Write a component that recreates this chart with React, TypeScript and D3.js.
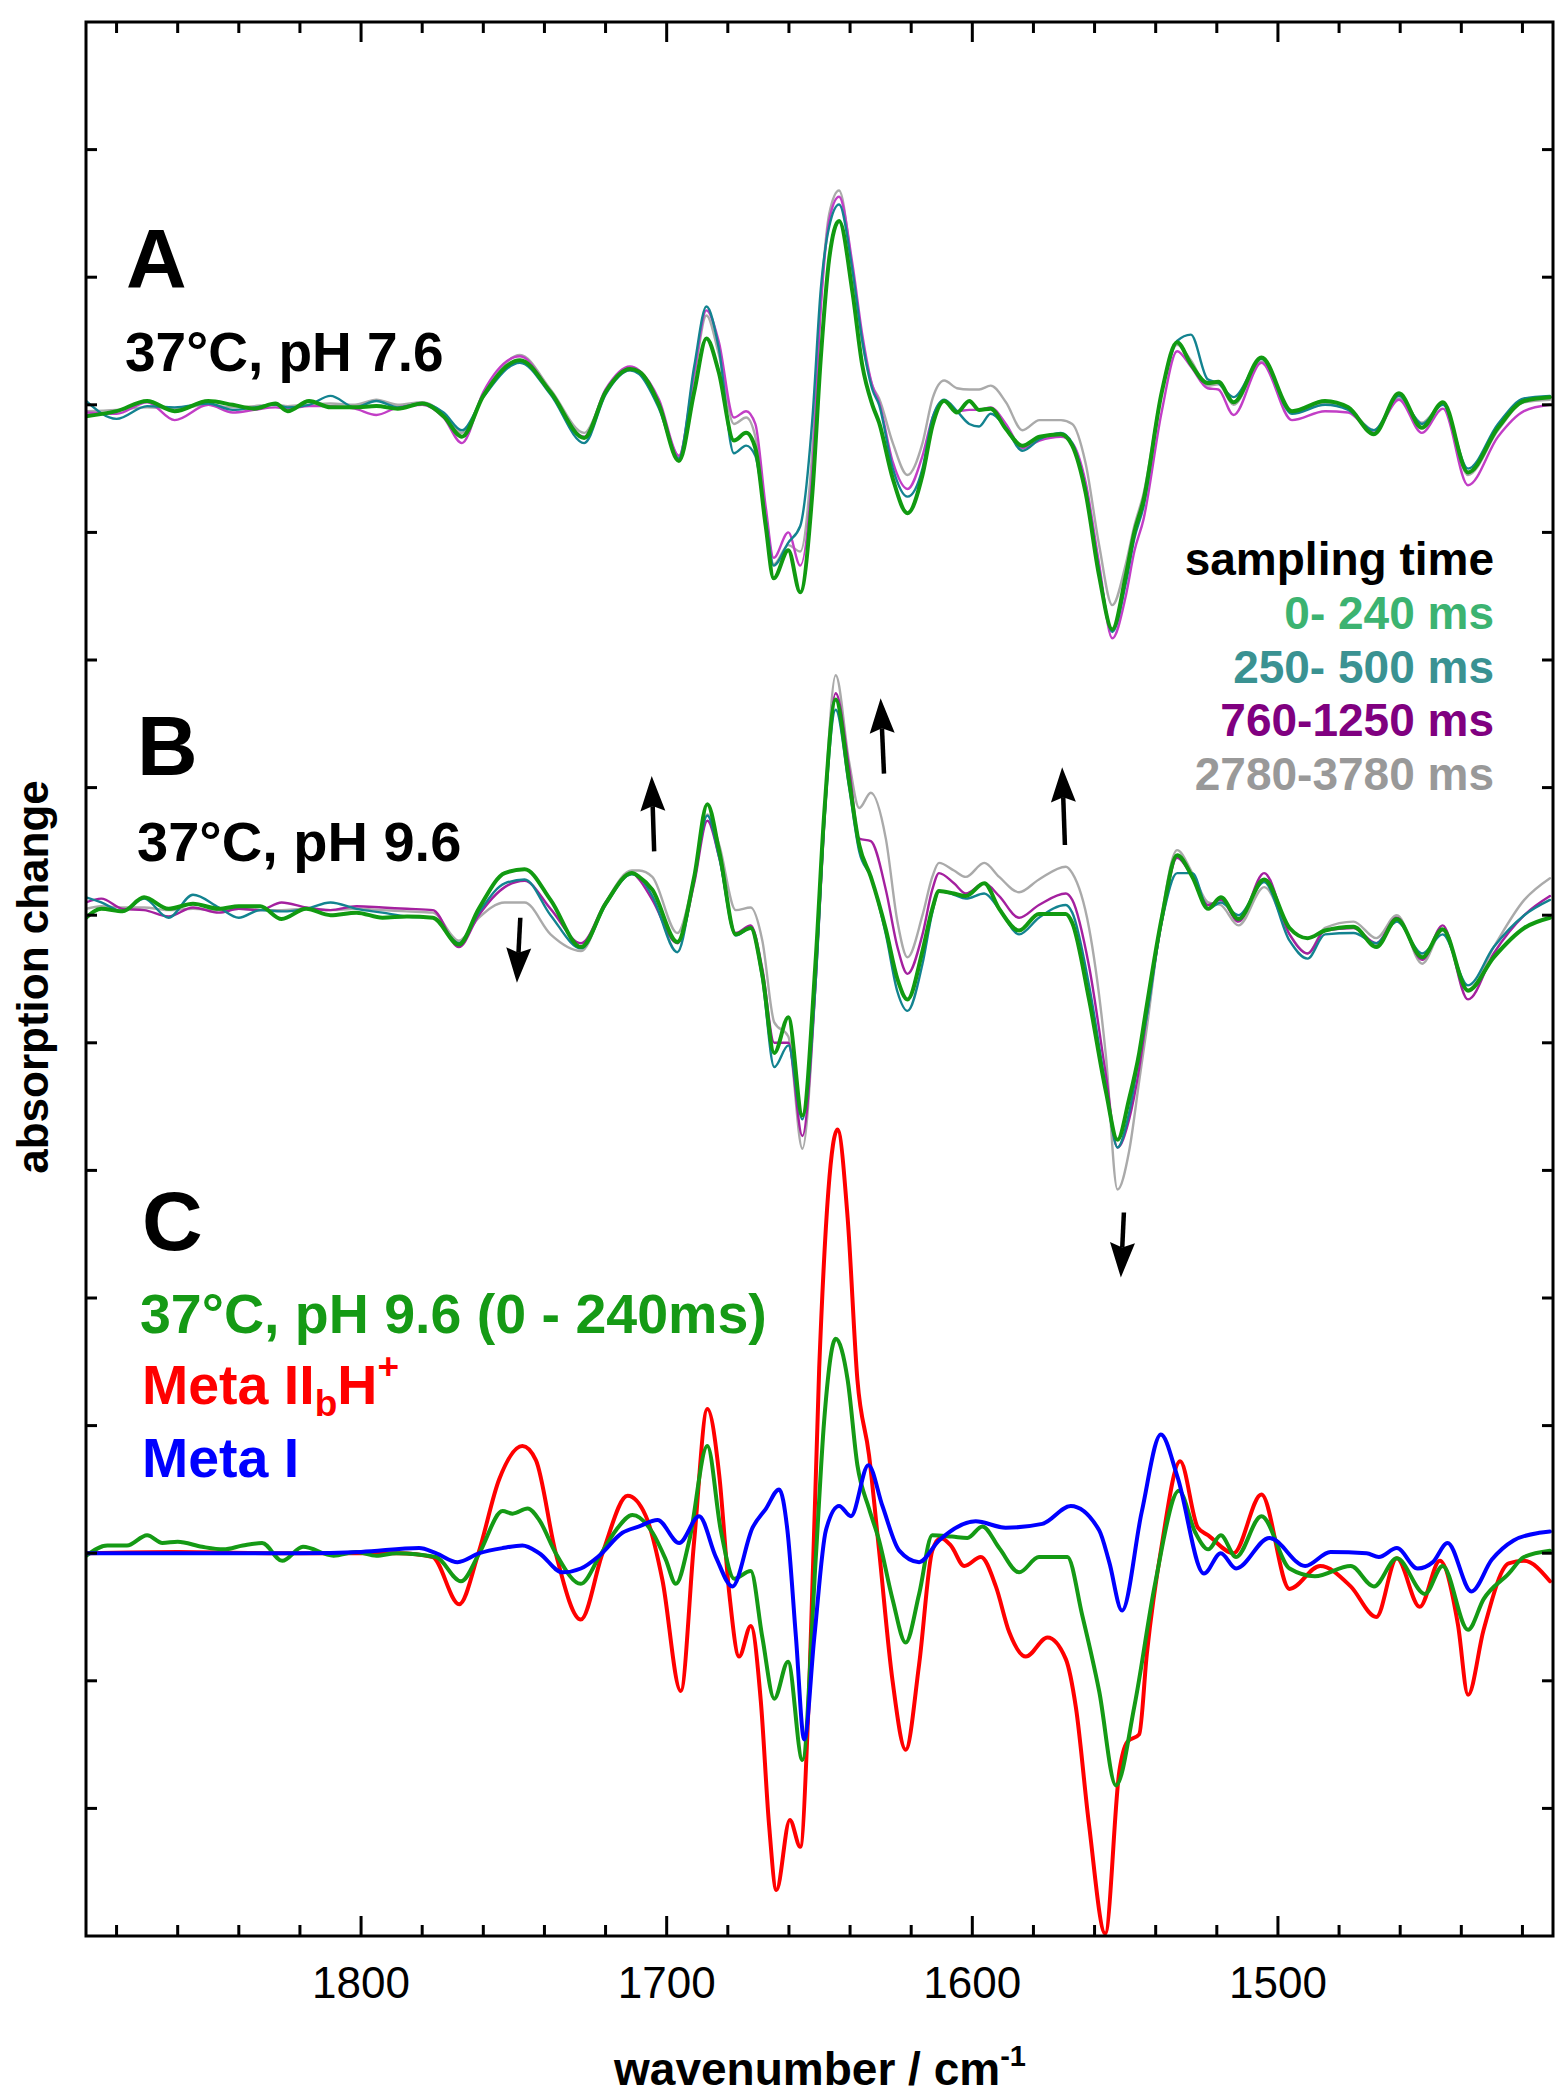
import React from 'react';
import * as d3 from 'd3';

// frame of the plot (px)
const W = 1561;
const H = 2095;
const frame = { left: 86, right: 1553, top: 22, bottom: 1936 };

// x axis: wavenumber
const xDomain = [1890, 1410];
const majorTicks = [1800, 1700, 1600, 1500];
const minorTicks = [1880, 1860, 1840, 1820, 1780, 1760, 1740, 1720, 1680, 1660, 1640, 1620, 1580, 1560, 1540, 1520, 1480, 1460, 1440, 1420];
// y axis: arbitrary units, ticks only
const yDomain = [0, 15];
const yTicks = [1, 2, 3, 4, 5, 6, 7, 8, 9, 10, 11, 12, 13, 14];

// panel baselines (y units)
const offsetA = 12;
const offsetB = 8;
const offsetC = 3;

// ---- panel A: 37°C, pH 7.6 ----
const wnA = [1890, 1880, 1870, 1861, 1850, 1842, 1835, 1828, 1824, 1817, 1810, 1802, 1795, 1788, 1780, 1773, 1767, 1760, 1748, 1738, 1727, 1720, 1712, 1709, 1702.5, 1696, 1691, 1687, 1683, 1678, 1674, 1671, 1667.6, 1665, 1660.2, 1656.3, 1652.3, 1649.6, 1646.8, 1643.6, 1639.2, 1636, 1632.7, 1630.5, 1626, 1621.2, 1616.3, 1613, 1609.2, 1605, 1601, 1597.8, 1594, 1589, 1583.6, 1578, 1571, 1567.3, 1563, 1558.5, 1554.2, 1549.8, 1547, 1544, 1538, 1533, 1528.5, 1523, 1519.5, 1514.5, 1505.4, 1495.4, 1484.6, 1477, 1468.6, 1460.4, 1452.9, 1446, 1437.8, 1428, 1419.5, 1411];
const aGreen = [-0.09, -0.05, 0.03, -0.05, 0.03, 0, -0.03, 0.01, -0.05, 0.03, -0.02, -0.02, -0.01, -0.03, 0.01, -0.09, -0.25, 0.07, 0.35, 0.1, -0.26, 0.1, 0.28, 0.26, 0, -0.44, 0.1, 0.52, 0.26, -0.28, -0.22, -0.34, -0.95, -1.36, -1.14, -1.47, -0.68, 0.36, 1.15, 1.44, 0.88, 0.31, 0, -0.14, -0.58, -0.85, -0.55, -0.16, 0.03, -0.06, 0.03, -0.04, -0.03, -0.19, -0.32, -0.25, -0.23, -0.32, -0.68, -1.34, -1.76, -1.34, -1.0, -0.75, 0.1, 0.49, 0.32, 0.17, 0.18, 0.02, 0.37, -0.05, 0.03, -0.02, -0.23, 0.09, -0.18, 0.02, -0.53, -0.18, 0.03, 0.06];
const aTeal = [0.03, -0.11, -0.01, -0.02, 0.01, -0.04, -0.02, 0, -0.02, 0, 0.07, -0.02, 0.03, -0.02, 0.01, -0.06, -0.2, 0.06, 0.33, 0.08, -0.3, 0.08, 0.27, 0.24, -0.03, -0.42, 0.3, 0.77, 0.45, -0.38, -0.32, -0.4, -0.9, -1.26, -1.08, -0.95, -0.1, 0.9, 1.4, 1.57, 1.05, 0.5, 0.12, 0, -0.5, -0.72, -0.5, -0.1, 0.04, -0.05, -0.15, -0.17, -0.07, -0.18, -0.36, -0.27, -0.22, -0.3, -0.65, -1.3, -1.78, -1.4, -1.05, -0.8, 0.1, 0.5, 0.55, 0.2, 0.17, 0.06, 0.36, -0.07, 0, -0.04, -0.2, 0.07, -0.15, 0, -0.5, -0.15, 0.05, 0.07];
const aMagenta = [-0.06, -0.07, 0.02, -0.12, 0, -0.06, -0.04, -0.02, -0.03, -0.01, -0.01, -0.03, -0.08, -0.02, 0, -0.1, -0.3, 0.1, 0.38, 0.1, -0.25, 0.12, 0.3, 0.27, 0.04, -0.4, 0.25, 0.74, 0.5, -0.1, -0.05, -0.15, -0.8, -1.2, -1.0, -1.26, -0.5, 0.75, 1.45, 1.63, 1.1, 0.55, 0.15, 0.02, -0.45, -0.66, -0.4, -0.1, 0.03, -0.05, -0.04, -0.04, -0.02, -0.15, -0.34, -0.28, -0.25, -0.3, -0.6, -1.25, -1.83, -1.5, -1.15, -0.9, -0.05, 0.42, 0.3, 0.13, 0.12, -0.08, 0.33, -0.12, -0.05, -0.06, -0.22, 0.04, -0.22, -0.03, -0.63, -0.25, -0.05, 0];
const aGrey = [-0.05, -0.04, -0.02, -0.03, 0, -0.02, -0.01, 0, -0.01, 0, 0.01, 0, 0.04, 0, 0.02, -0.07, -0.22, 0.08, 0.39, 0.12, -0.22, 0.1, 0.27, 0.25, 0, -0.4, 0.22, 0.7, 0.4, -0.15, -0.1, -0.25, -0.85, -1.25, -1.1, -1.15, -0.35, 0.8, 1.5, 1.68, 1.05, 0.5, 0.15, 0.05, -0.3, -0.55, -0.3, 0.05, 0.19, 0.13, 0.12, 0.12, 0.15, 0.02, -0.2, -0.12, -0.12, -0.15, -0.45, -1.1, -1.57, -1.25, -0.95, -0.7, 0.1, 0.47, 0.35, 0.15, 0.16, 0, 0.34, -0.06, 0.01, -0.03, -0.2, 0.05, -0.14, 0.01, -0.55, -0.2, 0.02, 0.04];

// ---- panel B: 37°C, pH 9.6 ----
const wnB = [1890, 1885, 1878, 1871, 1863, 1855, 1846.5, 1840, 1833, 1826, 1818, 1810, 1801.5, 1793, 1785, 1776.5, 1768, 1761.5, 1753, 1746.5, 1738, 1728, 1720, 1711.4, 1709, 1704.7, 1696.5, 1691, 1686.7, 1682.8, 1677.4, 1672.5, 1668.7, 1664.8, 1660.2, 1655.6, 1651.2, 1648.5, 1644.7, 1640.3, 1637, 1633.2, 1628.3, 1624.5, 1621.2, 1616.3, 1613.1, 1610.9, 1606, 1602.1, 1596.1, 1591.2, 1584.7, 1578.2, 1569.4, 1567.3, 1561.8, 1556.3, 1552.5, 1548.7, 1545.4, 1543, 1538, 1533, 1528, 1522.8, 1518.7, 1512.9, 1504.5, 1496.2, 1490.3, 1484.6, 1475.3, 1467.8, 1461.1, 1452.8, 1446.1, 1437.8, 1429.4, 1419.4, 1411];
const bGreen = [-0.02, 0.05, 0.03, 0.14, 0.05, 0.09, 0.05, 0.07, 0.07, -0.03, 0.05, 0, 0.02, -0.02, -0.01, -0.02, -0.23, 0.05, 0.33, 0.36, 0.12, -0.25, 0.09, 0.33, 0.3, 0.2, -0.21, 0.3, 0.87, 0.5, -0.15, -0.1, -0.47, -1.08, -0.8, -1.57, -0.33, 0.78, 1.69, 1.05, 0.55, 0.3, -0.11, -0.5, -0.66, -0.28, 0.05, 0.19, 0.17, 0.15, 0.25, 0.05, -0.12, 0.01, 0.01, -0.06, -0.66, -1.38, -1.76, -1.44, -1.08, -0.72, -0.02, 0.47, 0.3, 0.05, 0.14, -0.03, 0.28, -0.1, -0.18, -0.12, -0.09, -0.25, -0.03, -0.33, -0.11, -0.59, -0.33, -0.1, -0.02];
const bTeal = [0.14, 0.1, 0.03, 0.13, -0.02, 0.16, 0.06, -0.02, 0.04, 0.03, 0.05, 0.1, 0.05, 0.02, -0.01, -0.02, -0.22, 0.02, 0.25, 0.28, 0, -0.26, 0.08, 0.32, 0.3, 0.15, -0.29, 0.3, 0.78, 0.45, -0.16, -0.1, -0.5, -1.19, -1.02, -1.6, -0.5, 0.7, 1.61, 1.0, 0.5, 0.3, -0.15, -0.6, -0.75, -0.38, 0.02, 0.19, 0.16, 0.13, 0.17, 0.05, -0.15, -0.02, 0.08, 0.02, -0.55, -1.35, -1.82, -1.55, -1.1, -0.8, -0.05, 0.33, 0.33, 0.05, 0.1, 0, 0.26, -0.2, -0.34, -0.15, -0.14, -0.22, -0.05, -0.3, -0.15, -0.55, -0.25, 0, 0.12];
const bMagenta = [0.1, 0.13, 0.05, 0.04, -0.01, 0.06, 0.02, 0.05, 0.04, 0.1, 0.06, 0.04, 0.07, 0.06, 0.05, 0.04, -0.25, 0, 0.22, 0.27, 0.05, -0.22, 0.1, 0.33, 0.28, 0.12, -0.22, 0.25, 0.74, 0.45, -0.14, -0.08, -0.42, -1.0, -1.0, -1.73, -0.5, 0.7, 1.74, 1.15, 0.6, 0.58, 0.2, -0.25, -0.46, -0.15, 0.2, 0.33, 0.25, 0.17, 0.25, 0.15, -0.02, 0.08, 0.17, 0.12, -0.4, -1.25, -1.82, -1.6, -1.2, -0.8, -0.05, 0.45, 0.3, 0.08, 0.12, -0.05, 0.33, -0.15, -0.3, -0.12, -0.1, -0.22, -0.02, -0.35, -0.08, -0.66, -0.3, 0, 0.15];
const bGrey = [0.05, 0.07, 0.06, 0.06, 0.04, 0.05, 0.04, 0.05, 0.04, 0.04, 0.05, 0.04, 0.05, 0.04, 0.03, 0.02, -0.2, -0.02, 0.1, 0.1, -0.15, -0.28, 0.1, 0.35, 0.35, 0.3, -0.14, 0.3, 0.79, 0.55, 0.04, 0.06, -0.2, -0.84, -0.95, -1.83, -0.5, 0.75, 1.88, 1.2, 0.84, 0.96, 0.6, -0.05, -0.33, 0, 0.3, 0.41, 0.35, 0.3, 0.41, 0.3, 0.18, 0.28, 0.38, 0.33, -0.1, -1.1, -2.15, -1.85, -1.3, -0.9, 0, 0.51, 0.33, 0.1, 0.08, -0.08, 0.22, -0.15, -0.3, -0.1, -0.05, -0.18, 0, -0.38, -0.12, -0.6, -0.25, 0.12, 0.29];

// ---- panel C: comparison ----
const cGreen = [[1890, -0.02], [1883, 0.06], [1876.6, 0.06], [1870, 0.14], [1865, 0.08], [1860, 0.09], [1852, 0.05], [1845, 0.03], [1838.7, 0.06], [1832.4, 0.08], [1825.8, -0.06], [1819, 0.05], [1809, -0.02], [1801.6, 0.01], [1795, -0.02], [1788.5, 0], [1775.5, -0.03], [1767.3, -0.22], [1761.3, 0], [1753.7, 0.33], [1750.4, 0.31], [1745.5, 0.35], [1741.7, 0.26], [1736.3, 0], [1728.1, -0.24], [1722.1, -0.03], [1716.6, 0.18], [1711.2, 0.3], [1704.6, 0.16], [1700.3, -0.05], [1697, -0.24], [1692.6, 0.1], [1686.7, 0.84], [1682.3, 0.18], [1677.9, -0.2], [1672.5, -0.14], [1668.7, -0.66], [1664.8, -1.14], [1660.3, -0.85], [1655.6, -1.62], [1651.2, -0.03], [1648.5, 1.03], [1644.7, 1.68], [1640.8, 1.36], [1637.6, 0.69], [1633.8, 0.35], [1630.5, 0.1], [1626.1, -0.36], [1621.8, -0.7], [1617.4, -0.32], [1613.1, 0.14], [1606.6, 0.13], [1601.6, 0.12], [1596.7, 0.21], [1591.2, 0.04], [1584.7, -0.15], [1578.2, -0.03], [1568.9, -0.03], [1564, -0.49], [1558.5, -1.08], [1553, -1.82], [1546.9, -1.19], [1540.2, -0.24], [1532.4, 0.49], [1527, 0.16], [1522.8, 0.03], [1518.7, 0.14], [1513.7, -0.03], [1505.4, 0.29], [1496.2, -0.12], [1487.9, -0.18], [1476.2, -0.1], [1468.6, -0.26], [1461.1, -0.04], [1451.9, -0.32], [1446.1, -0.1], [1437.8, -0.6], [1432.7, -0.36], [1424.5, -0.16], [1419.5, -0.03], [1411, 0.02]];
const cRed = [[1890, 0], [1860, 0.01], [1830, 0], [1800, 0], [1787.5, 0], [1776.6, -0.03], [1767.9, -0.4], [1761.6, 0], [1754.8, 0.58], [1747.2, 0.84], [1742.8, 0.73], [1736.3, 0], [1728.1, -0.52], [1721, 0], [1712.8, 0.45], [1706.8, 0.29], [1701.4, -0.21], [1695.4, -1.08], [1691, 0.1], [1686.7, 1.13], [1682.8, 0.61], [1679.5, -0.32], [1676.3, -0.81], [1672.5, -0.57], [1669.2, -1.16], [1666.5, -2.13], [1664.1, -2.64], [1659.7, -2.09], [1656.3, -2.3], [1653.4, -1.08], [1650.1, 1.45], [1644.1, 3.32], [1640.8, 2.63], [1637.6, 1.36], [1633.8, 0.77], [1630.5, 0.02], [1626.1, -1.0], [1621.8, -1.54], [1617.4, -0.87], [1613.1, 0.02], [1610.3, 0.12], [1607, 0.06], [1602.6, -0.1], [1597.2, -0.03], [1592.3, -0.26], [1587.9, -0.62], [1582.5, -0.81], [1575.4, -0.66], [1569.4, -0.83], [1566.1, -1.21], [1561.8, -2.13], [1556.5, -2.98], [1551.9, -1.71], [1549.3, -1.48], [1545.4, -1.42], [1542.9, -0.79], [1537.9, 0.08], [1532, 0.72], [1526.2, 0.2], [1522.8, 0.14], [1514.5, 0], [1505.4, 0.46], [1496.2, -0.28], [1486.2, -0.1], [1476.2, -0.26], [1467.8, -0.5], [1461.1, -0.04], [1453.6, -0.42], [1447, -0.06], [1441.1, -0.56], [1437.8, -1.11], [1432.7, -0.6], [1424.5, -0.08], [1419.5, -0.06], [1411, -0.22]];
const cBlue = [[1890, 0], [1850, 0], [1820, 0], [1800, 0.01], [1781, 0.04], [1775.5, 0], [1768.4, -0.07], [1761.3, 0], [1753.7, 0.04], [1747.2, 0.06], [1741.7, 0], [1734.1, -0.15], [1728.1, -0.12], [1722.1, -0.02], [1714.5, 0.16], [1709, 0.21], [1703, 0.26], [1695.9, 0.08], [1689.4, 0.29], [1683.9, -0.03], [1678.5, -0.26], [1671.9, 0.2], [1667.5, 0.35], [1663.2, 0.5], [1660.5, 0.18], [1657.7, -0.66], [1655, -1.46], [1651.7, -0.66], [1647.9, 0.18], [1643.6, 0.37], [1639.7, 0.29], [1634, 0.69], [1629.4, 0.37], [1623.9, 0.02], [1617.4, -0.07], [1610.9, 0.1], [1598.9, 0.25], [1589.1, 0.2], [1577.1, 0.23], [1567.8, 0.37], [1558.5, 0.18], [1555.2, -0.07], [1551, -0.45], [1544.6, 0.32], [1538.3, 0.93], [1532.9, 0.6], [1524.2, -0.16], [1518.7, 0], [1513.7, -0.12], [1502.8, 0.12], [1491.1, -0.1], [1482.8, 0.01], [1471, 0], [1467, -0.03], [1461.1, 0.04], [1454.3, -0.12], [1449.3, -0.07], [1444.5, 0.08], [1436.7, -0.3], [1430, -0.05], [1422.9, 0.1], [1414.5, 0.16], [1411, 0.17]];

// legend of sampling times
const legendLabels = ['0- 240 ms', '250- 500 ms', '760-1250 ms', '2780-3780 ms'];
const legendColors = ['#3cb371', '#3a9292', '#800080', '#999999'];

// arrows: [tail wn, tail y] -> [tip wn, tip y], in data units
const arrows = [
  { from: [1704.1, 8.5], to: [1704.9, 9.09] },
  { from: [1628.9, 9.11], to: [1630.0, 9.7] },
  { from: [1569.7, 8.55], to: [1570.6, 9.16] },
  { from: [1747.9, 7.98], to: [1749.0, 7.47] },
  { from: [1550.4, 5.67], to: [1551.4, 5.16] },
];

const FONT = '"Liberation Sans", Arial, Helvetica, sans-serif';

export default function App() {
  const x = d3.scaleLinear().domain(xDomain).range([frame.left, frame.right]);
  const y = d3.scaleLinear().domain(yDomain).range([frame.bottom, frame.top]);

  const makeLine = (offset) =>
    d3.line()
      .x(d => x(d[0]))
      .y(d => y(d[1] + offset))
      .curve(d3.curveMonotoneX);

  const lineA = makeLine(offsetA);
  const lineB = makeLine(offsetB);
  const lineC = makeLine(offsetC);

  const seriesA = [
    { vals: aGrey, color: '#aaaaaa', w: 2.4 },
    { vals: aMagenta, color: '#c23ec6', w: 2.4 },
    { vals: aTeal, color: '#138390', w: 2.4 },
    { vals: aGreen, color: '#119a11', w: 4 },
  ];
  const seriesB = [
    { vals: bGrey, color: '#aaaaaa', w: 2.4 },
    { vals: bMagenta, color: '#a4209f', w: 2.4 },
    { vals: bTeal, color: '#138390', w: 2.4 },
    { vals: bGreen, color: '#119a11', w: 4 },
  ];
  const seriesC = [
    { data: cRed, color: '#ff0000' },
    { data: cGreen, color: '#159a15' },
    { data: cBlue, color: '#0000ff' },
  ];

  const arrowPath = (a) => {
    const x1 = x(a.from[0]), y1 = y(a.from[1]);
    const x2 = x(a.to[0]), y2 = y(a.to[1]);
    const len = Math.hypot(x2 - x1, y2 - y1);
    const ux = (x2 - x1) / len, uy = (y2 - y1) / len;
    const headL = 35, headW = 12.5, notch = 5;
    const bx = x2 - ux * headL, by = y2 - uy * headL;
    const nx = -uy, ny = ux;
    const shaft = `M${x1},${y1}L${bx + ux * notch},${by + uy * notch}`;
    const head = `M${x2},${y2}L${bx + nx * headW},${by + ny * headW}L${bx + ux * notch},${by + uy * notch}L${bx - nx * headW},${by - ny * headW}Z`;
    return { shaft, head };
  };

  return (
    <div style={{ position: 'absolute', left: 0, top: 0 }}>
      <svg width={W} height={H} style={{ display: 'block', background: '#fff' }}>
        <defs>
          <clipPath id="plotclip">
            <rect x={frame.left} y={frame.top} width={frame.right - frame.left} height={frame.bottom - frame.top} />
          </clipPath>
        </defs>

        <g clipPath="url(#plotclip)" fill="none" strokeLinejoin="round" strokeLinecap="round">
          {seriesA.map((s, i) => (
            <path key={'a' + i} d={lineA(wnA.map((w, j) => [w, s.vals[j]]))} stroke={s.color} strokeWidth={s.w} />
          ))}
          {seriesB.map((s, i) => (
            <path key={'b' + i} d={lineB(wnB.map((w, j) => [w, s.vals[j]]))} stroke={s.color} strokeWidth={s.w} />
          ))}
          {seriesC.map((s, i) => (
            <path key={'c' + i} d={lineC(s.data)} stroke={s.color} strokeWidth={4} />
          ))}
        </g>

        {/* arrows */}
        {arrows.map((a, i) => {
          const p = arrowPath(a);
          return (
            <g key={'ar' + i}>
              <path d={p.shaft} stroke="#000" strokeWidth={4.5} fill="none" />
              <path d={p.head} fill="#000" />
            </g>
          );
        })}

        {/* frame and ticks */}
        <rect x={frame.left} y={frame.top} width={frame.right - frame.left} height={frame.bottom - frame.top}
          fill="none" stroke="#000" strokeWidth={3} />
        <g stroke="#000" strokeWidth={3}>
          {majorTicks.map(t => (
            <g key={'M' + t}>
              <line x1={x(t)} x2={x(t)} y1={frame.bottom} y2={frame.bottom - 20} />
              <line x1={x(t)} x2={x(t)} y1={frame.top} y2={frame.top + 20} />
            </g>
          ))}
          {minorTicks.map(t => (
            <g key={'m' + t}>
              <line x1={x(t)} x2={x(t)} y1={frame.bottom} y2={frame.bottom - 11} />
              <line x1={x(t)} x2={x(t)} y1={frame.top} y2={frame.top + 11} />
            </g>
          ))}
          {yTicks.map(t => (
            <g key={'y' + t}>
              <line x1={frame.left} x2={frame.left + 11} y1={y(t)} y2={y(t)} />
              <line x1={frame.right} x2={frame.right - 11} y1={y(t)} y2={y(t)} />
            </g>
          ))}
        </g>

        {/* tick labels */}
        <g fontFamily={FONT} fontSize={44} textAnchor="middle" fill="#000">
          {majorTicks.map(t => (
            <text key={'l' + t} x={x(t)} y={1998}>{t}</text>
          ))}
        </g>

        {/* axis titles */}
        <text x={820} y={2085} textAnchor="middle" fontFamily={FONT} fontWeight="bold" fontSize={46}>
          wavenumber / cm<tspan fontSize={29} dy={-19}>-1</tspan>
        </text>
        <text transform="translate(48,977) rotate(-90)" textAnchor="middle" fontFamily={FONT} fontWeight="bold" fontSize={44}>
          absorption change
        </text>

        {/* panel labels */}
        <g fontFamily={FONT} fontWeight="bold" fill="#000">
          <text x={126} y={288} fontSize={84}>A</text>
          <text x={125} y={371} fontSize={55}>37°C, pH 7.6</text>
          <text x={137} y={775} fontSize={84}>B</text>
          <text x={137} y={861} fontSize={56}>37°C, pH 9.6</text>
          <text x={142} y={1250} fontSize={84}>C</text>
        </g>

        {/* panel C legend */}
        <g fontFamily={FONT} fontWeight="bold" fontSize={55.5}>
          <text x={140} y={1333} fill="#159a15">37°C, pH 9.6 (0 - 240ms)</text>
          <text x={142} y={1404} fill="#ff0000">
            Meta II<tspan fontSize={37} dy={12}>b</tspan><tspan dy={-12}>H</tspan><tspan fontSize={37} dy={-25}>+</tspan>
          </text>
          <text x={142} y={1477} fill="#0000ff">Meta I</text>
        </g>

        {/* sampling time legend */}
        <g fontFamily={FONT} fontWeight="bold" fontSize={46} textAnchor="end">
          <text x={1494} y={575} fill="#000">sampling time</text>
          {legendLabels.map((l, i) => (
            <text key={l} x={1494} y={629 + i * 53.7} fill={legendColors[i]}>{l}</text>
          ))}
        </g>
      </svg>
    </div>
  );
}
